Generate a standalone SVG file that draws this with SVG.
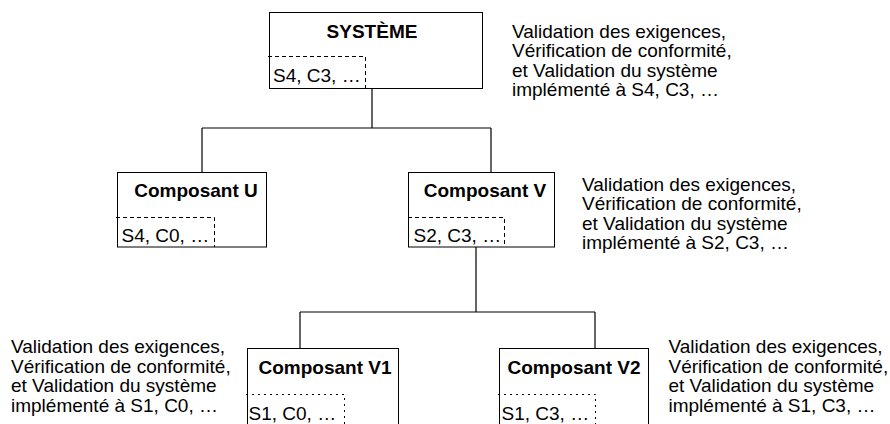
<svg xmlns="http://www.w3.org/2000/svg" width="890" height="424" viewBox="0 0 890 424">
<style>
.box{fill:#fff;stroke:#000;stroke-width:1}
.conn{fill:none;stroke:#000;stroke-width:1.2}
.dash{fill:none;stroke:#000;stroke-width:1;stroke-dasharray:4 3}
.dot{fill:none;stroke:#000;stroke-width:1;stroke-dasharray:2 4}
.title{font-family:"Liberation Sans",Arial,sans-serif;font-size:19px;font-weight:bold;text-anchor:middle;fill:#000}
.t{font-family:"Liberation Sans",Arial,sans-serif;font-size:19px;fill:#000}
</style>
<rect width="890" height="424" fill="#fff"/>
<g id="connectors">
<path class="conn" d="M372,89 V128 M202,128 H491 M202,128 V173 M491,128 V173"/>
<path class="conn" d="M476,247 V312 M300,312 H595 M300,312 V348 M595,312 V348"/>
</g>
<g id="systeme">
<rect class="box" x="269.5" y="12.5" width="213" height="76"/>
<text class="title" x="372" y="38">SYSTÈME</text>
<path class="dash" d="M268,56.5 H365.5 V89"/>
<text class="t" x="273" y="82">S4, C3, …</text>
</g>
<g id="composant-u">
<rect class="box" x="117.5" y="172.5" width="149" height="74.5"/>
<text class="title" x="196" y="197">Composant U</text>
<path class="dash" d="M116,217.5 H214.5 V247"/>
<text class="t" x="121.5" y="241.5">S4, C0, …</text>
</g>
<g id="composant-v">
<rect class="box" x="408.5" y="172.5" width="146" height="74.5"/>
<text class="title" x="485" y="197">Composant V</text>
<path class="dash" d="M408,217.5 H504.5 V247"/>
<text class="t" x="413.5" y="241.5">S2, C3, …</text>
</g>
<g id="composant-v1">
<rect class="box" x="247.5" y="348.5" width="151" height="90"/>
<text class="title" x="325" y="374">Composant V1</text>
<path class="dot" d="M246,394.5 H344.5 V424"/>
<text class="t" x="248.5" y="420">S1, C0, …</text>
</g>
<g id="composant-v2">
<rect class="box" x="499.5" y="348.5" width="149" height="90"/>
<text class="title" x="574" y="374">Composant V2</text>
<path class="dot" d="M498,394.5 H595.5 V424"/>
<text class="t" x="501.5" y="420">S1, C3, …</text>
</g>
<g id="note-systeme">
<text class="t" x="512" y="37.5">Validation des exigences,</text>
<text class="t" x="512" y="57">Vérification de conformité,</text>
<text class="t" x="512" y="76.5">et Validation du système</text>
<text class="t" x="512" y="96">implémenté à S4, C3, …</text>
</g>
<g id="note-v">
<text class="t" x="582" y="190.5">Validation des exigences,</text>
<text class="t" x="582" y="210">Vérification de conformité,</text>
<text class="t" x="582" y="229.5">et Validation du système</text>
<text class="t" x="582" y="249">implémenté à S2, C3, …</text>
</g>
<g id="note-v1">
<text class="t" x="11" y="353">Validation des exigences,</text>
<text class="t" x="11" y="372.5">Vérification de conformité,</text>
<text class="t" x="11" y="392">et Validation du système</text>
<text class="t" x="11" y="411.5">implémenté à S1, C0, …</text>
</g>
<g id="note-v2">
<text class="t" x="668.5" y="353">Validation des exigences,</text>
<text class="t" x="668.5" y="372.5">Vérification de conformité,</text>
<text class="t" x="668.5" y="392">et Validation du système</text>
<text class="t" x="668.5" y="411.5">implémenté à S1, C3, …</text>
</g>
</svg>
